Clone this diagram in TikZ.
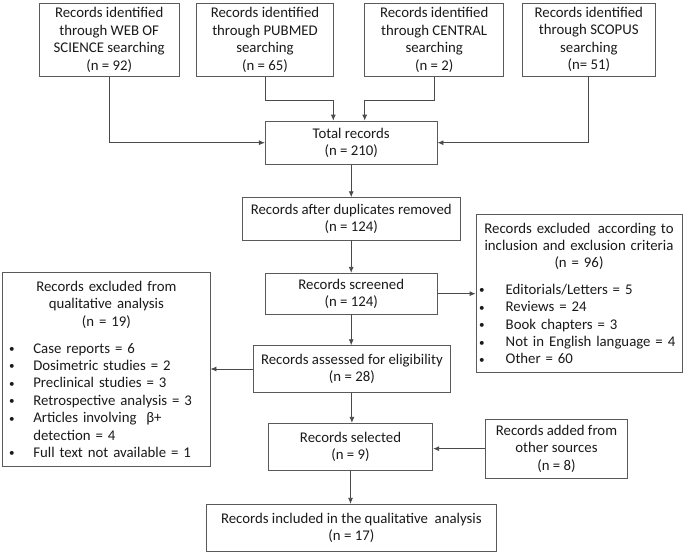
\documentclass[tikz,border=0pt]{standalone}
\usepackage{fontspec}
\setmainfont{Carlito}
\usetikzlibrary{arrows.meta}
\setlength{\parindent}{0pt}
\definecolor{boxgray}{HTML}{5A5A5A}
\definecolor{linegray}{HTML}{4A4A4A}
\definecolor{txt}{HTML}{1A1A1A}
\newcommand\fsz{\fontsize{14.8}{17.4}\selectfont}
\newcommand\bul{\raisebox{0.5pt}{\scalebox{0.75}{•}}}
\tikzset{
  box/.style={draw=boxgray, line width=0.85pt, inner sep=0pt, align=center, font=\fsz, text=txt},
  conn/.style={draw=linegray, line width=0.85pt},
  arr/.style={conn, -{Latex[length=6pt,width=5pt]}}
}
\begin{document}
\begin{tikzpicture}[x=1pt,y=-1pt]
\useasboundingbox (0,0) rectangle (685,554);
\fill[white] (0,0) rectangle (685,554);
% top row
\node[box, minimum width=140.3pt, minimum height=73pt] (b1) at (109.2,39.8) {Records identified\\through WEB OF\\SCIENCE searching\\(n = 92)};
\node[box, minimum width=136.6pt, minimum height=73pt] (b2) at (265,39.8) {Records identified\\through PUBMED\\searching\\(n = 65)};
\node[box, minimum width=139pt, minimum height=73pt] (b3) at (434.2,39.8) {Records identified\\through CENTRAL\\searching\\(n = 2)};
\node[box, minimum width=132.3pt, minimum height=73pt] (b4) at (588.8,39.5) {Records identified\\through SCOPUS\\searching\\(n= 51)};
% main column
\node[box, minimum width=171.7pt, minimum height=43.3pt] (tot) at (351.2,142.7) {Total records\\(n = 210)};
\node[box, minimum width=217.8pt, minimum height=42.3pt] (dup) at (351.2,218.85) {Records after duplicates removed\\(n = 124)};
\node[box, minimum width=171.7pt, minimum height=40.7pt] (scr) at (351.2,293.65) {Records screened\\(n = 124)};
\node[box, minimum width=196.8pt, minimum height=46.6pt] (ass) at (351.9,369) {Records assessed for eligibility\\(n = 28)};
\node[box, minimum width=164.4pt, minimum height=46.7pt] (sel) at (350.5,446.65) {Records selected\\(n = 9)};
\node[box, minimum width=289.3pt, minimum height=47.4pt] (inc) at (351.35,528) {Records included in the qualitative\ \ analysis\\(n = 17)};
\node[box, minimum width=142.4pt, minimum height=59.3pt] (add) at (556.5,448.65) {Records added from\\other sources\\(n = 8)};
% right exclusion box
\node[box, text width=206pt, minimum height=158.4pt, align=left] (rex) at (579,293.5) {%
{\centering Records excluded\ \,according to\\inclusion and exclusion criteria\\(n = 96)\par}%
\vspace{9pt}%
\raggedright
\hspace*{3pt}\makebox[26.7pt][l]{\bul}Editorials/Letters = 5\\
\hspace*{3pt}\makebox[26.7pt][l]{\bul}Reviews = 24\\
\hspace*{3pt}\makebox[26.7pt][l]{\bul}Book chapters = 3\\
\hspace*{3pt}\makebox[26.7pt][l]{\bul}Not in English language = 4\\
\hspace*{3pt}\makebox[26.7pt][l]{\bul}Other = 60\par};
% left exclusion box
\node[box, text width=207.3pt, minimum height=193.3pt, align=left] (lex) at (106.35,369.35) {%
{\centering Records excluded from\\qualitative analysis\\(n = 19)\par}%
\vspace{9.5pt}%
\raggedright
\hspace*{6.5pt}\makebox[24.1pt][l]{\bul}Case reports = 6\\
\hspace*{6.5pt}\makebox[24.1pt][l]{\bul}Dosimetric studies = 2\\
\hspace*{6.5pt}\makebox[24.1pt][l]{\bul}Preclinical studies = 3\\
\hspace*{6.5pt}\makebox[24.1pt][l]{\bul}Retrospective analysis = 3\\
\hspace*{6.5pt}\makebox[24.1pt][l]{\bul}Articles involving\ \ β+\\
\hspace*{30.6pt}detection = 4\\
\hspace*{6.5pt}\makebox[24.1pt][l]{\bul}Full text not available = 1\par};
% connectors
\draw[arr] (b1.south) |- (tot.west);
\draw[arr] (b4.south) |- (tot.east);
\draw[arr] (b2.south) -- ++(0,23.7) -| ([xshift=-17.9pt]tot.north);
\draw[arr] (b3.south) -- ++(0,23.7) -| ([xshift=13.5pt]tot.north);
\draw[arr] (tot.south) -- (dup.north);
\draw[arr] (dup.south) -- (scr.north);
\draw[arr] (scr.east) -- (scr.east -| rex.west);
\draw[arr] (scr.south) -- (scr.south |- ass.north);
\draw[arr] (ass.west) -- (ass.west -| lex.east);
\draw[arr] (ass.south) -- (ass.south |- sel.north);
\draw[arr] (add.west) -- (add.west -| sel.east);
\draw[arr] (sel.south) -- (sel.south |- inc.north);
\end{tikzpicture}
\end{document}
